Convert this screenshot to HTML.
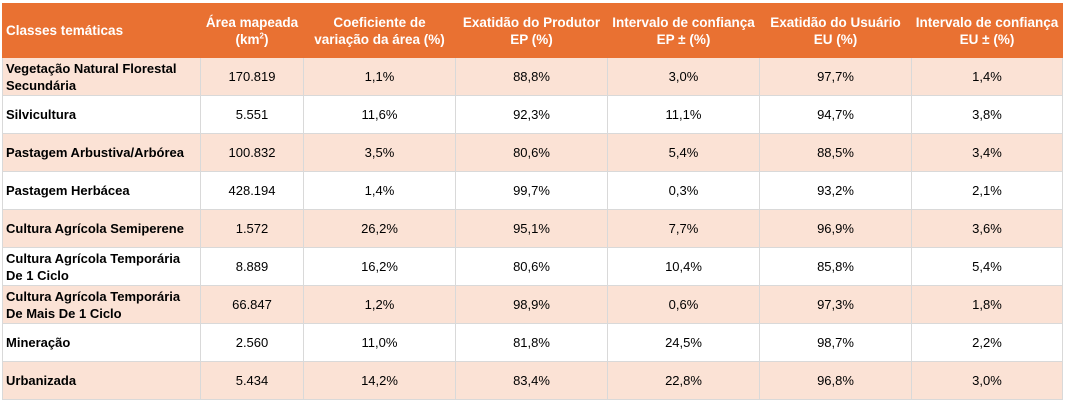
<!DOCTYPE html>
<html><head><meta charset="utf-8"><style>
body{margin:0;background:#fff;width:1066px;height:403px;overflow:hidden}
table{position:absolute;left:2px;top:3px;border-collapse:collapse;table-layout:fixed;font-family:"Liberation Sans",Arial,sans-serif;font-size:13px;color:#000}
td,th{border:1px solid #d9d9d9;text-align:center;padding:0 3px;height:37px;line-height:17px;overflow:hidden}
th{background:#E97132;color:#fff;font-weight:bold;height:53px;border-color:#E97132;font-size:13.5px}
th:first-child,td:first-child{text-align:left;font-weight:bold}
tr.o td{background:#FBE2D5}
sup{font-size:8px;line-height:0}
</style></head><body>
<table>
<colgroup><col style="width:198px"><col style="width:103px"><col style="width:152px"><col style="width:152px"><col style="width:152px"><col style="width:152px"><col style="width:151px"></colgroup>
<tr><th>Classes temáticas</th><th>Área mapeada<br>(km<sup>2</sup>)</th><th>Coeficiente de<br>variação da área (%)</th><th>Exatidão do Produtor<br>EP (%)</th><th>Intervalo de confiança<br>EP ± (%)</th><th>Exatidão do Usuário<br>EU (%)</th><th>Intervalo de confiança<br>EU ± (%)</th></tr>
<tr class="o"><td>Vegetação Natural Florestal<br>Secundária</td><td>170.819</td><td>1,1%</td><td>88,8%</td><td>3,0%</td><td>97,7%</td><td>1,4%</td></tr>
<tr><td>Silvicultura</td><td>5.551</td><td>11,6%</td><td>92,3%</td><td>11,1%</td><td>94,7%</td><td>3,8%</td></tr>
<tr class="o"><td>Pastagem Arbustiva/Arbórea</td><td>100.832</td><td>3,5%</td><td>80,6%</td><td>5,4%</td><td>88,5%</td><td>3,4%</td></tr>
<tr><td>Pastagem Herbácea</td><td>428.194</td><td>1,4%</td><td>99,7%</td><td>0,3%</td><td>93,2%</td><td>2,1%</td></tr>
<tr class="o"><td>Cultura Agrícola Semiperene</td><td>1.572</td><td>26,2%</td><td>95,1%</td><td>7,7%</td><td>96,9%</td><td>3,6%</td></tr>
<tr><td>Cultura Agrícola Temporária<br>De 1 Ciclo</td><td>8.889</td><td>16,2%</td><td>80,6%</td><td>10,4%</td><td>85,8%</td><td>5,4%</td></tr>
<tr class="o"><td>Cultura Agrícola Temporária<br>De Mais De 1 Ciclo</td><td>66.847</td><td>1,2%</td><td>98,9%</td><td>0,6%</td><td>97,3%</td><td>1,8%</td></tr>
<tr><td>Mineração</td><td>2.560</td><td>11,0%</td><td>81,8%</td><td>24,5%</td><td>98,7%</td><td>2,2%</td></tr>
<tr class="o"><td>Urbanizada</td><td>5.434</td><td>14,2%</td><td>83,4%</td><td>22,8%</td><td>96,8%</td><td>3,0%</td></tr>
</table>
</body></html>
